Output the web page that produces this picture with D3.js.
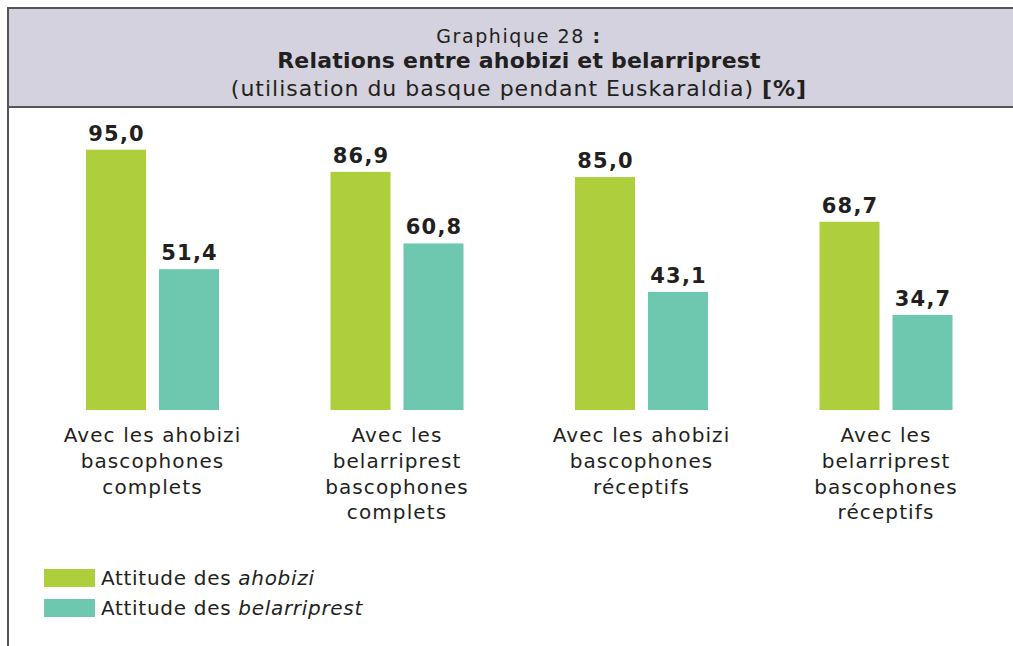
<!DOCTYPE html>
<html>
<head>
<meta charset="utf-8">
<script src="https://cdn.jsdelivr.net/npm/d3@7"></script>
<style>
  body { margin: 0; background: #fff; }
  text { font-family: "DejaVu Sans", sans-serif; fill: #231f20; }
</style>
</head>
<body>
<div id="chart"></div>
<script>
var categories = [
  ['Avec les ahobizi', 'bascophones', 'complets'],
  ['Avec les', 'belarriprest', 'bascophones', 'complets'],
  ['Avec les ahobizi', 'bascophones', 'réceptifs'],
  ['Avec les', 'belarriprest', 'bascophones', 'réceptifs']
];
var seriesNames = ['ahobizi', 'belarriprest'];
var ahobizi = [95.0, 86.9, 85.0, 68.7];
var belarriprest = [51.4, 60.8, 43.1, 34.7];
var colors = ['#accf3b', '#6ec8af'];

var width = 1013, height = 646;
var svg = d3.select('#chart').append('svg')
  .attr('width', width)
  .attr('height', height);

// header
svg.append('rect')
  .attr('x', 8).attr('y', 8)
  .attr('width', width + 20).attr('height', 99)
  .attr('fill', '#d3d2de')
  .attr('stroke', '#555')
  .attr('stroke-width', 2);
svg.append('line')
  .attr('x1', 8).attr('x2', 8)
  .attr('y1', 107).attr('y2', height)
  .attr('stroke', '#555').attr('stroke-width', 2);

var cx = 519;
svg.append('text').attr('x', cx).attr('y', 43)
  .attr('text-anchor', 'middle').attr('font-size', 19)
  .attr('letter-spacing', 1.6)
  .text('Graphique 28 ').append('tspan').attr('font-weight', 'bold').text(':');
svg.append('text').attr('x', cx).attr('y', 68)
  .attr('text-anchor', 'middle').attr('font-size', 22).attr('font-weight', 'bold')
  .attr('letter-spacing', 0.2)
  .text('Relations entre ahobizi et belarriprest');
var sub = svg.append('text').attr('x', cx).attr('y', 96)
  .attr('text-anchor', 'middle').attr('font-size', 22)
  .attr('letter-spacing', 1);
sub.append('tspan').text('(utilisation du basque pendant Euskaraldia) ');
sub.append('tspan').attr('font-weight', 'bold').text('[%]');

// scales
var x0 = d3.scaleBand()
  .domain(d3.range(categories.length))
  .range([30.25, 1008.25])
  .padding(0);
var x1 = d3.scaleBand()
  .domain(seriesNames)
  .range([-66.5, 66.5])
  .paddingInner(13 / 73)
  .paddingOuter(0);
var y = d3.scaleLinear().domain([0, 100]).range([410, 136]);

var data = categories.map(function(c, i) {
  return { i: i, values: [ahobizi[i], belarriprest[i]] };
});

var groups = svg.append('g').selectAll('g').data(data)
  .enter().append('g')
  .attr('transform', function(d) { return 'translate(' + (x0(d.i) + x0.bandwidth() / 2) + ',0)'; });

groups.selectAll('rect').data(function(d) { return d.values; })
  .enter().append('rect')
  .attr('x', function(d, j) { return x1(seriesNames[j]); })
  .attr('width', x1.bandwidth())
  .attr('y', function(d) { return y(d); })
  .attr('height', function(d) { return y(0) - y(d); })
  .attr('fill', function(d, j) { return colors[j]; });

groups.selectAll('text.val').data(function(d) { return d.values; })
  .enter().append('text')
  .attr('class', 'val')
  .attr('x', function(d, j) { return x1(seriesNames[j]) + x1.bandwidth() / 2 + 0.6; })
  .attr('y', function(d) { return y(d) - 9; })
  .attr('text-anchor', 'middle')
  .attr('font-size', 21)
  .attr('font-weight', 'bold')
  .attr('letter-spacing', 1.2)
  .text(function(d) { return d.toFixed(1).replace('.', ','); });

groups.append('text')
  .attr('text-anchor', 'middle')
  .attr('font-size', 20)
  .attr('letter-spacing', 1.1)
  .selectAll('tspan').data(function(d) { return categories[d.i]; })
  .enter().append('tspan')
  .attr('x', 0)
  .attr('y', function(d, k) { return 442 + k * 25.8; })
  .text(function(d) { return d; });

// legend
var legend = svg.append('g').selectAll('g').data(seriesNames)
  .enter().append('g')
  .attr('transform', function(d, j) { return 'translate(44,' + (569 + j * 30) + ')'; });
legend.append('rect')
  .attr('width', 51).attr('height', 18)
  .attr('fill', function(d, j) { return colors[j]; });
var lt = legend.append('text')
  .attr('x', 57).attr('y', 16)
  .attr('font-size', 20)
  .attr('letter-spacing', 0.7);
lt.append('tspan').text('Attitude des ');
lt.append('tspan').attr('font-style', 'italic').text(function(d) { return d; });
</script>
</body>
</html>
